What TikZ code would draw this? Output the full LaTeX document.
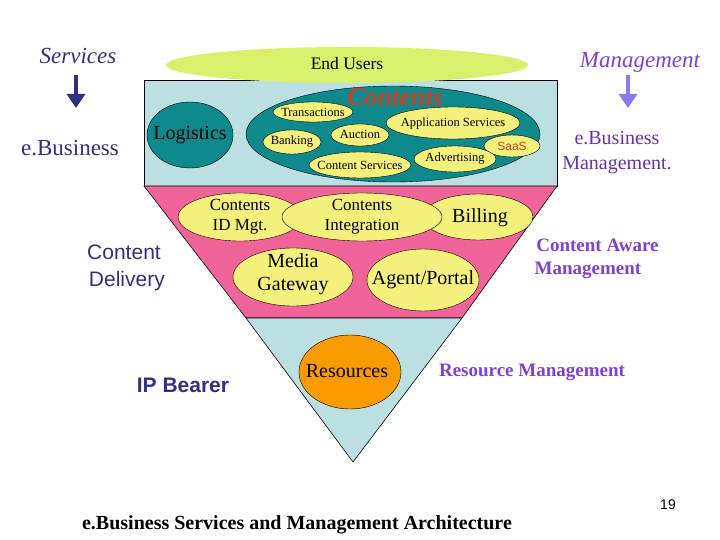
\documentclass[tikz,border=0pt]{standalone}
\usepackage{fontspec}
\setmainfont{Liberation Serif}
\setsansfont{Liberation Sans}
\usetikzlibrary{arrows.meta}
\definecolor{lblue}{HTML}{BCDFE2}
\definecolor{pinkl}{HTML}{F0649A}
\definecolor{teal2}{HTML}{0E8A8C}
\definecolor{ylw}{HTML}{F4F07C}
\definecolor{lime}{HTML}{D8F06C}
\definecolor{orng}{HTML}{F89A00}
\definecolor{navy}{HTML}{303080}
\definecolor{purp}{HTML}{8040D0}
\definecolor{dpurp}{HTML}{6830A8}
\definecolor{redo}{HTML}{C84020}
\newcommand{\fs}[1]{\fontsize{#1}{#1}\selectfont}
\begin{document}
\begin{tikzpicture}[x=1pt,y=-1pt,
  lbl/.style={font=\fs{#1},align=center,inner sep=0pt},
  sarrow/.style={line width=4pt,-{Triangle[length=14pt,width=18pt]}}]
\useasboundingbox (0,0) rectangle (720,540);
% layers
\draw[fill=lblue,line width=0.6pt] (144,80) rectangle (557,186);
\draw[fill=pinkl,line width=0.6pt] (144,186) -- (557,186) -- (462,318) -- (246,318) -- cycle;
\draw[fill=lblue,line width=0.6pt] (246,318) -- (462,318) -- (353,462) -- cycle;
\fill[lime] (347,65) ellipse [x radius=181,y radius=18];
\node[lbl=17.5] (eu) at (347,64) {End Users};
% top layer
\draw[fill=teal2] (393,134) ellipse [x radius=147,y radius=48];
\node[lbl=26,text=redo,font=\bfseries\itshape\fs{26}] (ct) at (395,97) {Contents};
\draw[fill=teal2] (190,135) ellipse [x radius=43,y radius=33];
\node[lbl=20] (lg) at (190,135) {Logistics};
\draw[fill=ylw] (313,112) ellipse [x radius=40,y radius=10];
\node[lbl=12.5] (tr) at (313,112) {Transactions};
\draw[fill=ylw] (360,135) ellipse [x radius=29,y radius=11];
\node[lbl=12.5] (au) at (360,134) {Auction};
\draw[fill=ylw] (292,142) ellipse [x radius=29,y radius=12];
\node[lbl=12.5] (bk) at (292,142) {Banking};
\draw[fill=ylw] (453,123) ellipse [x radius=67,y radius=16];
\node[lbl=12.5] (as) at (453,123) {Application Services};
\draw[fill=ylw] (512,146) ellipse [x radius=28,y radius=11];
\node[lbl=12,text=redo,font=\sffamily\fs{12}] (sa) at (512,146) {SaaS};
\draw[fill=ylw] (360,165) ellipse [x radius=51,y radius=13];
\node[lbl=12.5] (cs) at (360,165) {Content Services};
\draw[fill=ylw] (455,159) ellipse [x radius=41,y radius=13];
\node[lbl=12.5] (ad) at (455,159) {Advertising};
% middle layer
\draw[fill=ylw] (240,217) ellipse [x radius=62,y radius=24];
\draw[fill=ylw] (478,217) ellipse [x radius=55,y radius=23];
\draw[fill=ylw] (362,217) ellipse [x radius=80,y radius=24];
\node[lbl=17] (cid) at (240,217) {Contents\\[3pt]ID Mgt.};
\node[lbl=17] (ci) at (362,217) {Contents\\[3pt]Integration};
\node[lbl=20] (bi) at (480,218) {Billing};
\draw[fill=ylw] (293,277) ellipse [x radius=60,y radius=29];
\node[lbl=20] (mg) at (293,274) {Media\\[3pt]Gateway};
\draw[fill=ylw] (423,280) ellipse [x radius=56,y radius=31];
\node[lbl=20] (ap) at (423,280) {Agent/Portal};
\draw[fill=orng] (350,372) ellipse [x radius=51,y radius=37];
\node[lbl=20] (rs) at (347,371) {Resources};
% side texts
\node[lbl=23,text=navy,font=\itshape\fs{23}] (sv) at (78,56) {Services};
\coordinate (sva) at (76,75); \coordinate (svb) at (76,108);
\draw[sarrow,draw=navy,fill=navy] (sva) -- (svb);
\node[lbl=23,text=navy] (eb) at (70,148) {e.Business};
\node[lbl=23,text=purp,font=\itshape\fs{23}] (mt) at (640,62) {Management};
\coordinate (mta) at (628,75); \coordinate (mtb) at (628,108);
\draw[sarrow,draw=purp!50!blue!60,fill=purp!50!blue!60] (mta) -- (mtb);
\node[lbl=20,text=dpurp] (ebm) at (617,153) {e.Business\\[5pt]Management.};
\node[lbl=22,text=navy,font=\sffamily\fs{21}] (cd) at (124,268) {Content\\[6pt]\ Delivery};
\node[lbl=19,text=purp,font=\bfseries\fs{19}] (caw) at (588,259) {\ \ \ \ Content Aware\\[4pt]Management};
\node[lbl=21,text=navy,font=\sffamily\bfseries\fs{21}] (ip) at (183,385) {IP Bearer};
\node[lbl=19,text=purp,font=\bfseries\fs{19}] (rm) at (532,372) {Resource Management};
\node[lbl=14,font=\sffamily\fs{14}] (pg) at (668,505) {19};
\node[lbl=20,font=\bfseries\fs{20}] (tt) at (297,525) {e.Business Services and Management Architecture};
\end{tikzpicture}
\end{document}
